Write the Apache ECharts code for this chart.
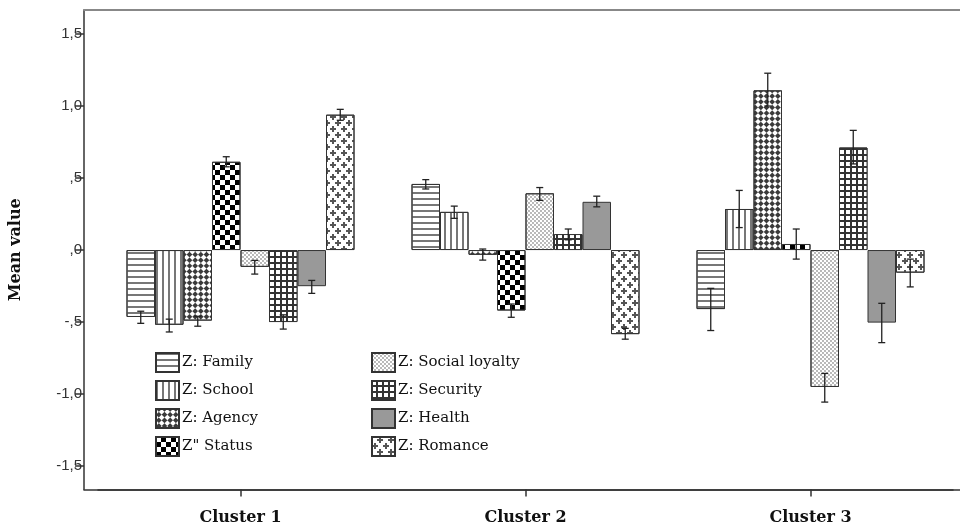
<!DOCTYPE html>
<html>
<head>
<meta charset="utf-8">
<script src="https://cdn.jsdelivr.net/npm/echarts@6/dist/echarts.min.js"></script>
<style>
html,body{margin:0;padding:0;background:#fff;}
#chart{width:960px;height:526px;}
</style>
</head>
<body>
<div id="chart"></div>
<script>
// ---- data ----
const categories = ['Cluster 1', 'Cluster 2', 'Cluster 3'];
const seriesNames = ['Z: Family', 'Z: School', 'Z: Agency', 'Z" Status', 'Z: Social loyalty', 'Z: Security', 'Z: Health', 'Z: Romance'];
const family = [-0.465, 0.459, -0.410];
const school = [-0.519, 0.265, 0.285];
const agency = [-0.490, -0.033, 1.109];
const status = [0.613, -0.420, 0.042];
const socialLoyalty = [-0.117, 0.394, -0.951];
const security = [-0.500, 0.111, 0.712];
const health = [-0.251, 0.335, -0.504];
const romance = [0.940, -0.584, -0.157];
const familyErr = [[-0.509, -0.425], [0.424, 0.489], [-0.559, -0.266]];
const schoolErr = [[-0.569, -0.480], [0.220, 0.305], [0.156, 0.414]];
const agencyErr = [[-0.529, -0.460], [-0.070, 0.007], [1.000, 1.228]];
const statusErr = [[0.578, 0.648], [-0.467, -0.375], [-0.063, 0.146]];
const socialLoyaltyErr = [[-0.167, -0.072], [0.345, 0.434], [-1.056, -0.857]];
const securityErr = [[-0.549, -0.450], [0.071, 0.146], [0.598, 0.831]];
const healthErr = [[-0.301, -0.211], [0.300, 0.374], [-0.643, -0.370]];
const romanceErr = [[0.901, 0.977], [-0.619, -0.544], [-0.256, -0.063]];
const yTickValues = [-1.5, -1, -0.5, 0, 0.5, 1, 1.5];
const yTickLabels = ['-1,5', '-1,0', '-,5', ',0', ',5', '1,0', '1,5'];
const yMin = -1.663, yMax = 1.667;

const values = [family, school, agency, status, socialLoyalty, security, health, romance];
const errs = [familyErr, schoolErr, agencyErr, statusErr, socialLoyaltyErr, securityErr, healthErr, romanceErr];

// ---- styles ----
const plusPath = 'path://M2,0H4V2H6V4H4V6H2V4H0V2H2Z';
const styles = [
  {color:'#fff', decal:{symbol:'rect', symbolSize:1, dashArrayX:[1,0], dashArrayY:[2,4], color:'#777'}},
  {color:'#fff', decal:{symbol:'rect', symbolSize:1, dashArrayX:[2,4], dashArrayY:[1,0], color:'#777'}},
  {color:'#fff', decal:{symbol:'rect', symbolSize:1, dashArrayX:[[4,4],[0,4,4,0]], dashArrayY:[4,0], rotation:Math.PI/4, color:'#3a3a3a'}},
  {color:'#fff', decal:{symbol:'rect', symbolSize:1, dashArrayX:[[5,5],[0,5,5,0]], dashArrayY:[5,0], color:'#000'}},
  {color:'#fff', decal:{symbol:'circle', symbolSize:0.9, dashArrayX:[[2,2],[0,2,2,0]], dashArrayY:[2,0], color:'#999'}},
  {color:'#333', decal:{symbol:'rect', symbolSize:1, dashArrayX:[4,2], dashArrayY:[4,2], color:'#fff'}},
  {color:'#999'},
  {color:'#fff', decal:{symbol:plusPath, symbolSize:1, dashArrayX:[[6,5],[0,5,6,0]], dashArrayY:[6,0], color:'#555'}}
];

const nBars = seriesNames.length;
const catGap = 0.2;

const barSeries = seriesNames.map((name, i) => ({
  name: name,
  type: 'bar',
  xAxisIndex: 1,
  yAxisIndex: 1,
  data: values[i],
  barGap: '0%',
  barCategoryGap: (catGap*100) + '%',
  itemStyle: Object.assign({borderColor:'#333', borderWidth:1}, styles[i]),
  emphasis: {disabled: true},
  z: 2
}));

const errData = [];
errs.forEach((arr, s) => arr.forEach((lh, c) => errData.push([c, s, lh[0], lh[1]])));

const errSeries = {
  type: 'custom',
  xAxisIndex: 1,
  yAxisIndex: 1,
  z: 5,
  silent: true,
  encode: {x: 0, y: [2, 3]},
  data: errData,
  renderItem: function (params, api) {
    const c = api.value(0), s = api.value(1), lo = api.value(2), hi = api.value(3);
    const band = api.size([1, 0])[0];
    const bw = band * (1 - catGap) / nBars;
    const x = api.coord([c, 0])[0] + (s - (nBars - 1) / 2) * bw;
    const yl = api.coord([c, lo])[1];
    const yh = api.coord([c, hi])[1];
    const cap = 3.5;
    const st = {stroke: '#222', lineWidth: 1.3};
    return {type: 'group', children: [
      {type: 'line', shape: {x1: x, y1: yl, x2: x, y2: yh}, style: st},
      {type: 'line', shape: {x1: x - cap, y1: yl, x2: x + cap, y2: yl}, style: st},
      {type: 'line', shape: {x1: x - cap, y1: yh, x2: x + cap, y2: yh}, style: st}
    ]};
  }
};

const legendCommon = {
  orient: 'vertical',
  itemWidth: 23,
  itemHeight: 19,
  itemGap: 7,
  top: 352,
  padding: 0,
  selectedMode: false,
  icon: 'rect',
  textStyle: {fontFamily: 'DejaVu Serif', fontSize: 15, color: '#111', padding: [0,0,0,-2]}
};

const chart = echarts.init(document.getElementById('chart'), null, {renderer: 'canvas'});
chart.setOption({
  backgroundColor: '#fff',
  animation: false,
  grid: [
    {left: 83, right: -10, top: 10, bottom: 36.5},
    {left: 98, right: 7, top: 10, bottom: 36.5}
  ],
  legend: [
    Object.assign({left: 155, data: seriesNames.slice(0, 4)}, legendCommon),
    Object.assign({left: 371, data: seriesNames.slice(4)}, legendCommon)
  ],
  xAxis: [
    {type: 'value', gridIndex: 0, min: 0, max: 1, position: 'bottom',
     axisLine: {show: true, onZero: false, lineStyle: {color: '#333', width: 1.5}},
     axisTick: {show: false}, axisLabel: {show: false}, splitLine: {show: false}},
    {type: 'category', gridIndex: 1, data: categories, position: 'bottom',
     axisLine: {show: true, onZero: false, lineStyle: {color: '#333', width: 1.5}},
     axisTick: {show: true, alignWithLabel: true, length: 7, lineStyle: {color: '#333', width: 1.5}},
     axisLabel: {margin: 20, fontFamily: 'DejaVu Serif', fontWeight: 'bold', fontSize: 16, color: '#111'}},
    {type: 'value', gridIndex: 0, min: 0, max: 1, position: 'top',
     axisLine: {show: true, onZero: false, lineStyle: {color: '#888', width: 2}},
     axisTick: {show: false}, axisLabel: {show: false}, splitLine: {show: false}}
  ],
  yAxis: [
    {type: 'value', gridIndex: 0, min: yMin, max: yMax,
     name: 'Mean value', nameLocation: 'middle', nameGap: 60, nameRotate: 90,
     nameTextStyle: {fontFamily: 'DejaVu Serif', fontWeight: 'bold', fontSize: 16, color: '#111'},
     axisLine: {show: true, onZero: false, lineStyle: {color: '#333', width: 1.5}},
     axisTick: {show: true, length: 9, customValues: yTickValues, lineStyle: {color: '#333', width: 1.5}},
     axisLabel: {margin: 2, customValues: yTickValues, fontFamily: 'Liberation Sans', fontSize: 15, color: '#333',
       formatter: function (v) { const i = yTickValues.findIndex(t => Math.abs(t - v) < 1e-6); return i >= 0 ? yTickLabels[i] : ''; }},
     splitLine: {show: false}},
    {type: 'value', gridIndex: 1, min: yMin, max: yMax, show: false, splitLine: {show: false}}
  ],
  series: barSeries.concat([errSeries])
});
</script>
</body>
</html>
